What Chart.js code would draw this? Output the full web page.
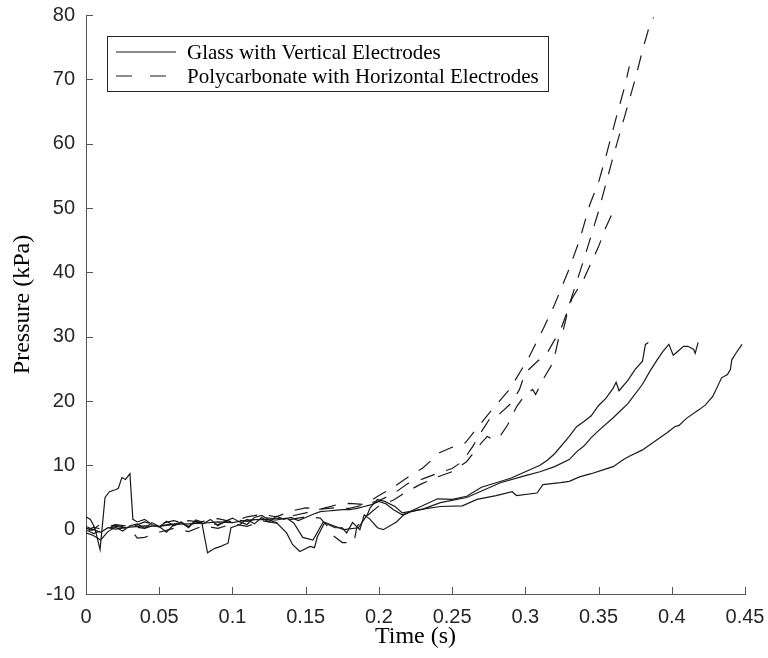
<!DOCTYPE html>
<html>
<head>
<meta charset="utf-8">
<script src="https://cdn.jsdelivr.net/npm/chart.js@4.4.0/dist/chart.umd.min.js"></script>
<style>
  html, body { margin: 0; padding: 0; background: #fff; }
  canvas { display: block; }
</style>
</head>
<body>
<canvas id="myChart" width="768" height="658"></canvas>
<script>
// glass runs (solid lines)
const glass1T = [0, 0.003, 0.006, 0.0096, 0.013, 0.016, 0.02, 0.022, 0.0245, 0.027,
  0.03, 0.032, 0.035, 0.04, 0.045, 0.05, 0.055, 0.06, 0.065, 0.07,
  0.075, 0.079, 0.083, 0.088, 0.092, 0.097, 0.099, 0.105, 0.11, 0.115,
  0.12, 0.125, 0.13, 0.135, 0.14, 0.145, 0.15, 0.155, 0.16, 0.165,
  0.17, 0.175, 0.18, 0.185, 0.19, 0.195, 0.2, 0.205, 0.21, 0.216,
  0.222, 0.23, 0.242, 0.257, 0.267, 0.28, 0.291, 0.294, 0.308, 0.312,
  0.324, 0.33, 0.337, 0.345, 0.353, 0.36, 0.367, 0.371, 0.38, 0.387,
  0.397, 0.402, 0.405, 0.41, 0.419, 0.423, 0.428, 0.434, 0.438, 0.44,
  0.441, 0.444, 0.448];
const glass1P = [2.0, 1.6, 0.3, -3.1, 5.0, 5.9, 6.2, 6.4, 8.1, 7.8,
  8.7, 1.6, 1.2, 1.6, 0.8, 0.4, 1.3, 0.6, 1.1, 0.3,
  1.5, 1.2, -3.6, -2.9, -2.6, -2.1, 0.3, 0.8, 1.6, 0.9,
  1.9, 1.2, 2.1, 1.6, 1.9, 1.4, 1.9, 2.4, 2.8, 2.9,
  3.0, 3.1, 3.1, 3.3, 3.6, 3.9, 4.4, 4.0, 3.1, 2.3,
  2.8, 3.2, 3.6, 3.7, 4.7, 5.3, 5.9, 5.3, 5.7, 7.0,
  7.3, 7.5, 8.2, 8.7, 9.3, 9.8, 10.9, 11.4, 12.4, 13.5,
  15.1, 16.0, 16.2, 17.3, 18.7, 19.4, 20.7, 23.6, 24.1, 24.9,
  26.4, 27.5, 28.8];

const glass2T = [0, 0.005, 0.01, 0.015, 0.02, 0.025, 0.03, 0.035, 0.04, 0.045,
  0.05, 0.055, 0.06, 0.065, 0.07, 0.075, 0.08, 0.085, 0.09, 0.095,
  0.1, 0.105, 0.11, 0.115, 0.12, 0.125, 0.13, 0.137, 0.141, 0.146,
  0.153, 0.156, 0.158, 0.163, 0.17, 0.175, 0.178, 0.182, 0.187, 0.19,
  0.194, 0.199, 0.203, 0.212, 0.217, 0.225, 0.24, 0.25, 0.26, 0.27,
  0.28, 0.29, 0.3, 0.31, 0.315, 0.32, 0.33, 0.335, 0.34, 0.345,
  0.35, 0.355, 0.36, 0.362, 0.364, 0.37, 0.375, 0.38, 0.382, 0.384];
const glass2P = [-0.5, -0.9, -1.6, -0.3, 0.4, -0.2, 0.6, 0.9, 0.2, 1.1,
  0.5, -0.4, 0.8, 1.2, 0.5, 1.4, 0.9, 1.6, 0.6, 1.3,
  1.8, 1.2, 0.8, 1.9, 2.2, 1.5, 1.1, -0.5, -2.3, -3.4,
  -2.6, -2.8, -1.1, 1.1, 0.3, 0.3, -0.5, 1.1, 0.0, 2.3,
  1.6, 0.3, 0.0, 1.2, 2.3, 3.2, 4.8, 4.7, 5.2, 6.6,
  7.3, 8.0, 9.0, 10.0, 10.8, 11.8, 14.5, 16.0, 16.8, 17.7,
  19.3, 20.4, 22.0, 22.9, 21.6, 23.2, 24.9, 26.2, 28.8, 29.1];

const glass3T = [0, 0.005, 0.01, 0.015, 0.02, 0.03, 0.04, 0.05, 0.06, 0.07,
  0.08, 0.09, 0.1, 0.11, 0.12, 0.13, 0.137, 0.142, 0.148, 0.155,
  0.162, 0.176, 0.186, 0.192, 0.194, 0.199, 0.204, 0.211, 0.216, 0.23,
  0.242, 0.26, 0.283, 0.3, 0.31, 0.32, 0.33, 0.335, 0.34, 0.345,
  0.35, 0.36, 0.37, 0.38, 0.385, 0.39, 0.394, 0.398, 0.401, 0.404,
  0.408, 0.411, 0.415, 0.416, 0.418];
const glass3P = [0.2, 0.0, -0.4, 0.3, 0.1, 0.4, 0.6, 0.5, 0.8, 0.9,
  1.0, 1.2, 1.1, 1.5, 1.6, 1.5, 1.8, 1.0, -1.2, -1.6,
  1.2, 0.0, 0.3, 2.3, 3.4, 4.7, 4.4, 3.6, 2.6, 3.2,
  4.2, 5.0, 7.3, 8.4, 9.0, 9.8, 10.9, 12.1, 13.0, 14.3,
  15.4, 17.4, 19.6, 22.6, 24.6, 26.4, 27.7, 28.8, 27.1, 27.7,
  28.5, 28.5, 28.0, 27.4, 29.1];

// polycarbonate runs (dashed lines)
const poly1T = [0, 0.005, 0.01, 0.015, 0.02, 0.03, 0.04, 0.05, 0.06, 0.07,
  0.08, 0.09, 0.1, 0.11, 0.12, 0.13, 0.14, 0.15, 0.16, 0.17,
  0.18, 0.19, 0.2, 0.21, 0.22, 0.23, 0.2417, 0.25, 0.257, 0.264,
  0.271, 0.277, 0.282, 0.291, 0.296, 0.3, 0.308, 0.315, 0.32, 0.326,
  0.33, 0.34, 0.35, 0.36, 0.37, 0.375, 0.38, 0.385, 0.3875];
const poly1P = [0.5, 0.0, 0.9, 0.2, 0.7, 0.3, 1.2, 0.6, 0.9, 1.4,
  1.1, 0.8, 1.6, 1.3, 1.9, 1.7, 2.1, 2.6, 3.2, 3.4,
  3.3, 3.9, 4.5, 5.6, 7.2, 7.9, 8.9, 9.5, 10.6, 12.9,
  15.6, 17.7, 17.9, 19.8, 21.8, 24.4, 26.1, 27.5, 29.5, 31.1,
  35, 42, 49.5, 58, 66, 70, 74.5, 78.5, 79.6];

const poly2T = [0, 0.005, 0.01, 0.02, 0.03, 0.04, 0.05, 0.06, 0.07, 0.08,
  0.09, 0.1, 0.11, 0.12, 0.13, 0.14, 0.15, 0.16, 0.17, 0.18,
  0.19, 0.2, 0.21, 0.22, 0.23, 0.2417, 0.25, 0.259, 0.2745, 0.2895,
  0.302, 0.312, 0.32, 0.329, 0.337, 0.344, 0.35, 0.355, 0.362, 0.368, 0.371];
const poly2P = [-0.3, 0.4, 0.1, 0.8, 0.5, 0.2, 0.9, 1.4, 0.8, 1.3,
  1.7, 1.2, 2.0, 2.4, 2.0, 2.9, 3.4, 3.2, 3.8, 4.1,
  3.9, 5.3, 6.6, 8.2, 9.6, 12.0, 12.8, 13.5, 17.9, 21.9,
  26.6, 31.1, 35, 40, 45, 50.5, 54, 58, 64, 69, 72];

const poly3T = [0, 0.005, 0.01, 0.02, 0.03, 0.035, 0.04, 0.05, 0.06, 0.07,
  0.08, 0.09, 0.1, 0.11, 0.12, 0.13, 0.14, 0.15, 0.16, 0.165,
  0.168, 0.175, 0.183, 0.185, 0.19, 0.2, 0.21, 0.219, 0.228, 0.24,
  0.25, 0.26, 0.27, 0.274, 0.278, 0.283, 0.288, 0.294, 0.3, 0.305,
  0.307, 0.312, 0.319, 0.324, 0.332, 0.34, 0.35, 0.355, 0.36];
const poly3P = [0.0, -0.6, -0.2, 0.5, 0.2, -1.3, -1.2, -0.4, 0.2, -0.3,
  0.6, 0.2, 0.9, 0.5, 1.4, 1.0, 1.6, 2.0, 1.8, 0.5,
  -0.8, -2.0, -2.0, 0.5, 1.8, 3.7, 4.6, 5.9, 7.0, 8.2,
  9.0, 10.6, 13.5, 14.5, 14.0, 14.6, 16.3, 19.1, 21.0, 21.8,
  21.0, 23.3, 26.0, 31.0, 36.0, 39.0, 44.0, 47.0, 49.5];

const seriesLabels = ['Glass with Vertical Electrodes', 'Polycarbonate with Horizontal Electrodes'];
const xTicks = [0, 0.05, 0.1, 0.15, 0.2, 0.25, 0.3, 0.35, 0.4, 0.45];
const xTickLabels = ['0', '0.05', '0.1', '0.15', '0.2', '0.25', '0.3', '0.35', '0.4', '0.45'];
const yTicks = [-10, 0, 10, 20, 30, 40, 50, 60, 70, 80];
const yTickLabels = ['-10', '0', '10', '20', '30', '40', '50', '60', '70', '80'];

const lineColor = '#1a1a1a';
const axisColor = '#555555';
const labelColor = '#262626';
const sansFont = '"Liberation Sans", Arial, Helvetica, sans-serif';
const serifFont = '"Liberation Serif", "Times New Roman", serif';
const dashPattern = [15, 12];

function toPoints(t, p) {
  return t.map((x, i) => ({ x: x, y: p[i] }));
}

function solid(t, p) {
  return { data: toPoints(t, p), borderColor: lineColor, borderWidth: 1.2, pointRadius: 0, fill: false };
}
function dashed(t, p) {
  return { data: toPoints(t, p), borderColor: lineColor, borderWidth: 1.2, borderDash: dashPattern, pointRadius: 0, fill: false };
}

// ticks point into the plot, like the original axes
const inwardTicks = {
  id: 'inwardTicks',
  afterDraw(chart) {
    const c = chart.ctx;
    const a = chart.chartArea;
    const xs = chart.scales.x;
    const ys = chart.scales.y;
    c.save();
    c.strokeStyle = axisColor;
    c.lineWidth = 1;
    c.beginPath();
    xTicks.forEach(v => {
      const px = Math.round(xs.getPixelForValue(v)) + 0.5;
      c.moveTo(px, a.bottom);
      c.lineTo(px, a.bottom - 7);
    });
    yTicks.forEach(v => {
      const py = Math.round(ys.getPixelForValue(v)) + 0.5;
      c.moveTo(a.left, py);
      c.lineTo(a.left + 7, py);
    });
    c.stroke();
    c.restore();
  }
};

// boxed legend inside the upper left of the plot
const boxLegend = {
  id: 'boxLegend',
  afterDraw(chart) {
    const c = chart.ctx;
    const a = chart.chartArea;
    const left = a.left + 21;
    const top = a.top + 21;
    const h = 55;
    c.save();
    c.font = '21px ' + serifFont;
    const w = Math.max(...seriesLabels.map(s => c.measureText(s).width));
    const boxW = 80 + w + 9;
    c.fillStyle = '#ffffff';
    c.fillRect(left, top, boxW, h);
    c.strokeStyle = '#262626';
    c.lineWidth = 1;
    c.strokeRect(Math.round(left) + 0.5, Math.round(top) + 0.5, Math.round(boxW), h);

    const rows = [top + 16, top + 40];
    c.strokeStyle = lineColor;
    c.lineWidth = 1.2;
    rows.forEach((y, i) => {
      c.setLineDash(i === 0 ? [] : [16, 18]);
      c.beginPath();
      c.moveTo(left + 9, y);
      c.lineTo(left + 69, y);
      c.stroke();
    });
    c.setLineDash([]);
    c.fillStyle = '#000';
    c.textBaseline = 'middle';
    c.textAlign = 'left';
    rows.forEach((y, i) => c.fillText(seriesLabels[i], left + 80, y + 1));
    c.restore();
  }
};

const ctx = document.getElementById('myChart');

const data = {
  datasets: [
    solid(glass1T, glass1P),
    solid(glass2T, glass2P),
    solid(glass3T, glass3P),
    dashed(poly1T, poly1P),
    dashed(poly2T, poly2P),
    dashed(poly3T, poly3P)
  ]
};

const config = {
  type: 'line',
  data: data,
  options: {
    responsive: false,
    animation: false,
    devicePixelRatio: 1,
    layout: { padding: { top: 15, right: 23, left: 0, bottom: 0 } },
    elements: { line: { tension: 0 }, point: { radius: 0 } },
    plugins: { legend: { display: false }, tooltip: { enabled: false } },
    scales: {
      x: {
        type: 'linear',
        min: 0,
        max: 0.45,
        afterBuildTicks: s => { s.ticks = xTicks.map(v => ({ value: v })); },
        afterFit: s => { s.height = 64; s.paddingLeft = 0; s.paddingRight = 0; },
        ticks: {
          callback: (v, i) => xTickLabels[i],
          font: { family: sansFont, size: 20 },
          color: labelColor,
          padding: 11,
          maxRotation: 0,
          autoSkip: false
        },
        grid: { display: false, drawTicks: false, drawOnChartArea: false },
        border: { display: true, color: axisColor, width: 1 },
        title: {
          display: true,
          text: 'Time (s)',
          font: { family: serifFont, size: 24 },
          color: '#000',
          padding: { top: 0, bottom: 7 }
        }
      },
      y: {
        type: 'linear',
        min: -10,
        max: 80,
        afterBuildTicks: s => { s.ticks = yTicks.map(v => ({ value: v })); },
        afterFit: s => { s.width = 86; s.paddingTop = 0; s.paddingBottom = 0; },
        ticks: {
          callback: (v, i) => yTickLabels[i],
          font: { family: sansFont, size: 20 },
          color: labelColor,
          padding: 11,
          autoSkip: false
        },
        grid: { display: false, drawTicks: false, drawOnChartArea: false },
        border: { display: true, color: axisColor, width: 1 },
        title: {
          display: true,
          text: 'Pressure (kPa)',
          font: { family: serifFont, size: 24 },
          color: '#000',
          padding: { top: 8, bottom: 0 }
        }
      }
    }
  },
  plugins: [inwardTicks, boxLegend]
};

const myChart = new Chart(ctx, config);
</script>
</body>
</html>
